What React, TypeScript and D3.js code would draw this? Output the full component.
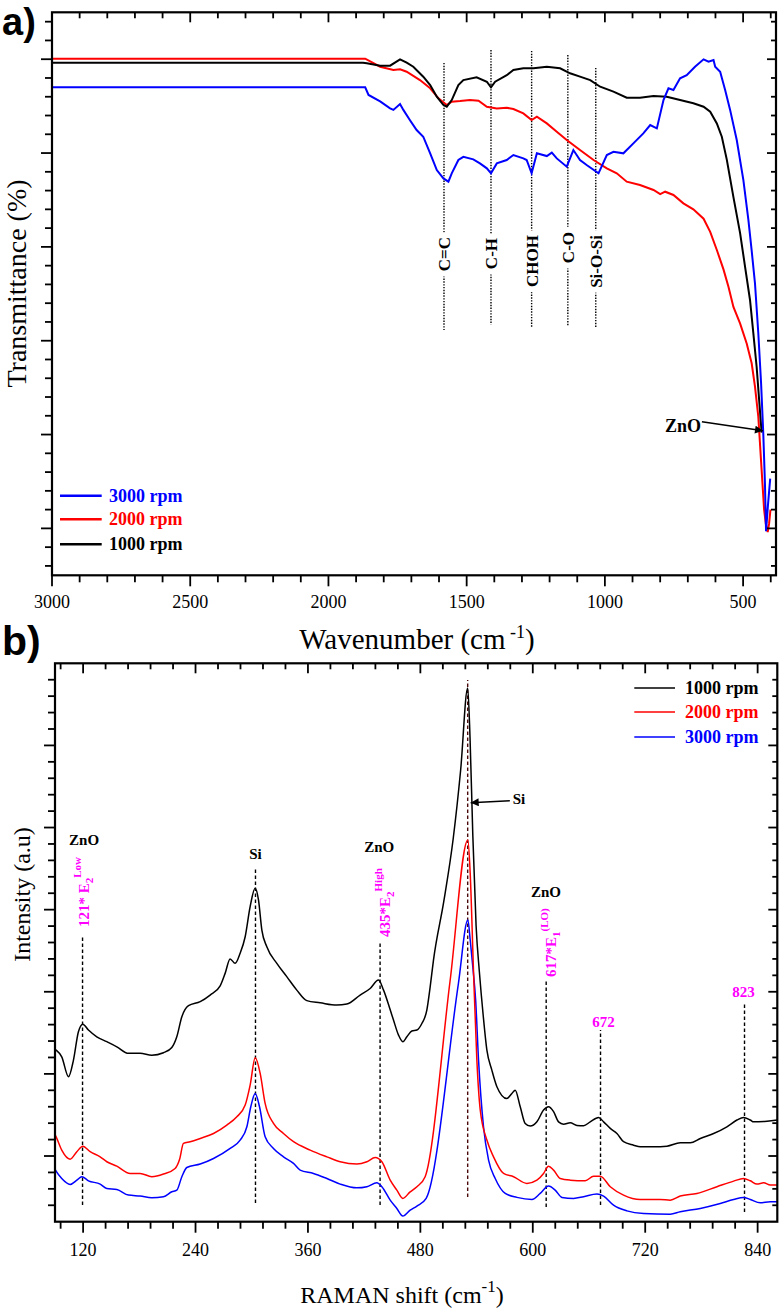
import React from 'react';
import * as d3 from 'd3';

// ---------------- Panel a : FTIR ----------------
const ftirTickLabels = [3000, 2500, 2000, 1500, 1000, 500];

const ftir1000: [number, number][] = [
  [3000, 54.63], [1875, 54.63], [1861, 54.57], [1813, 54.3], [1777, 54.31], [1741, 54.99], [1717, 54.63],
  [1693, 54.2], [1657, 53.14], [1632, 52.25], [1608, 51.0], [1584, 50.12], [1572, 49.94], [1554, 50.65],
  [1530, 52.25], [1512, 52.78], [1464, 53.07], [1427, 52.6], [1412, 52.0], [1397, 52.6], [1355, 53.3],
  [1331, 53.85], [1295, 54.03], [1258, 54.03], [1210, 54.2], [1162, 54.03], [1126, 53.5], [1090, 53.14],
  [1053, 52.78], [1017, 52.07], [969, 51.54], [921, 50.9], [873, 50.9], [824, 51.08], [776, 51.0],
  [728, 50.65], [680, 50.3], [643, 49.94], [619, 49.4], [595, 48.16], [577, 46.74], [559, 44.3],
  [547, 42.3], [535, 40.3], [511, 36.5], [493, 32.9], [475, 29.34], [463, 25.8], [451, 22.2],
  [442, 18.7], [433, 15.2],
];

const ftir2000: [number, number][] = [
  [3000, 55.06], [1875, 55.06], [1867, 55.06], [1813, 54.2], [1765, 53.85], [1741, 53.92], [1717, 53.67],
  [1669, 52.78], [1632, 51.9], [1602, 50.83], [1572, 50.12], [1554, 50.47], [1524, 50.54], [1488, 50.65],
  [1457, 50.58], [1427, 49.94], [1391, 49.76], [1355, 49.83], [1331, 49.69], [1295, 49.23], [1265, 48.52],
  [1246, 48.87], [1210, 48.16], [1174, 47.28], [1138, 46.39], [1090, 45.32], [1041, 44.26], [993, 43.37],
  [957, 42.84], [921, 41.95], [873, 41.59], [824, 41.06], [800, 40.63], [782, 40.88], [752, 40.53],
  [716, 39.64], [680, 39.0], [643, 38.0], [619, 36.6], [595, 34.67], [571, 32.6], [553, 30.76],
  [535, 28.6], [511, 26.85], [487, 24.7], [469, 22.6], [457, 20.1], [445, 16.9], [439, 14.06],
  [430, 9.8], [424, 7.0], [418, 5.5], [411, 4.6], [406, 5.5], [401, 7.0],
];

const ftir3000: [number, number][] = [
  [3000, 52.0], [1872, 52.0], [1867, 52.0], [1855, 51.19], [1813, 50.5], [1777, 49.76], [1765, 49.6],
  [1741, 50.22], [1729, 49.6], [1705, 48.5], [1681, 47.45], [1657, 46.74], [1632, 44.97], [1608, 43.19],
  [1584, 42.3], [1566, 41.95], [1554, 42.84], [1530, 44.26], [1512, 44.6], [1476, 44.33], [1452, 43.9],
  [1427, 43.37], [1412, 42.84], [1391, 43.9], [1355, 44.26], [1331, 44.79], [1295, 44.43], [1283, 44.26],
  [1265, 42.84], [1246, 44.97], [1210, 44.68], [1192, 45.04], [1174, 44.43], [1138, 43.55], [1114, 45.32],
  [1090, 44.26], [1066, 43.72], [1023, 42.84], [993, 44.79], [969, 45.14], [933, 44.97], [897, 46.03],
  [861, 47.1], [836, 47.99], [812, 47.63], [788, 50.65], [770, 51.9], [752, 51.72], [728, 52.96],
  [704, 53.3], [674, 54.2], [643, 54.99], [625, 54.74], [607, 54.91], [601, 54.2], [583, 53.67],
  [565, 51.72], [547, 49.6], [523, 46.39], [499, 42.12], [481, 37.9], [469, 34.6], [457, 31.1],
  [445, 25.8], [435, 20.5], [427, 15.1], [421, 9.8], [417, 4.7], [410, 7.5], [402, 10.3],
];

const ftirBands = ['C=C', 'C-H', 'CHOH', 'C-O', 'Si-O-Si'];
const ftirBandPos = [1582, 1412, 1265, 1134, 1033];
const ftirBandTop = [54.6, 55.98, 55.88, 55.45, 54.07];
const ftirBandBottom = [26.14, 26.7, 26.36, 26.57, 26.36];
const ftirBandLabelEnd = [36.05, 35.95, 36.27, 36.59, 36.27];

// ---------------- Panel b : Raman ----------------
const ramanTickLabels = [120, 240, 360, 480, 600, 720, 840];

const raman1000: [number, number][] = [
  [90, 10.5], [91.2, 10.45], [97.2, 10.04], [104.4, 8.83], [109.7, 9.84], [115, 11.57], [119.7, 12.03],
  [125.7, 11.67], [134.6, 11.26], [145.3, 10.96], [156, 10.65], [168.4, 10.25], [180.9, 10.25],
  [193.3, 10.14], [205.8, 10.29], [214.7, 10.61], [220, 11.26], [225.4, 12.48], [232.5, 13.15],
  [245, 13.4], [255.6, 13.8], [266.3, 14.36], [271.6, 15.12], [276.9, 16.0], [282.3, 15.73],
  [287.6, 16.34], [293, 17.35], [298.3, 19.18], [303.6, 20.3], [307.2, 19.59], [310.8, 17.76],
  [316.1, 16.74], [326.8, 15.73], [337.4, 14.92], [348.1, 14.1], [358.8, 13.46], [373, 13.33],
  [390.8, 13.19], [401.5, 13.25], [415.7, 13.8], [426.4, 14.2], [435.3, 14.71], [440.7, 14.1],
  [447.8, 12.9], [451.3, 12.28], [456.7, 11.36], [461.3, 10.96], [465.6, 11.26], [470.9, 11.61],
  [476.3, 11.67], [481.6, 12.07], [486.9, 12.88], [490.5, 14.31], [494, 15.93], [505, 19.5],
  [515, 23.3], [523, 27.5], [530.5, 32.5], [533, 29.5], [536, 23.5], [539.5, 18.0], [543, 15.2],
  [547, 12.6], [551, 10.45], [556.3, 9.23], [561.7, 8.22], [572.3, 7.5], [577.7, 7.81],
  [581.2, 8.01], [586.6, 7.0], [591.9, 5.98], [597.3, 5.82], [604.4, 6.08], [611.5, 6.8], [616.8, 7.0],
  [622.2, 6.7], [627.5, 6.08], [632.8, 5.94], [640, 6.02], [647.1, 5.86], [654.2, 5.84], [661.3, 6.08],
  [670.2, 6.35], [675.6, 6.08], [682.7, 5.68], [689.8, 5.37], [696.9, 4.87], [707.6, 4.66],
  [714.7, 4.56], [728.9, 4.56], [743.2, 4.6], [757.4, 4.8], [768.1, 4.8], [778.8, 5.07], [793, 5.37],
  [807.2, 5.78], [817.9, 6.19], [825, 6.35], [832.2, 6.19], [835.7, 6.08], [850, 6.12], [861, 6.19],
];

const raman2000: [number, number][] = [
  [90, 5.3], [91.2, 5.17], [97.2, 4.36], [106.1, 3.81], [113.3, 4.26], [119.7, 4.6], [127.5, 4.26],
  [138.2, 3.95], [145.3, 3.65], [156, 3.38], [170.2, 2.94], [180.9, 2.94], [193.3, 2.74], [205.8, 2.9],
  [218.2, 3.24], [223, 3.8], [227.1, 4.77], [234.3, 4.87], [245, 5.07], [259.2, 5.37], [273.4, 5.88],
  [284.1, 6.39], [293, 7.1], [298.3, 8.32], [303.7, 9.98], [309, 9.03], [314.3, 7.2], [323.2, 5.98],
  [333.9, 5.37], [344.6, 4.87], [362.4, 4.36], [380.2, 3.95], [394.4, 3.65], [412.2, 3.51],
  [422.9, 3.65], [431.8, 3.91], [438.9, 3.65], [447.8, 2.53], [454.9, 1.92], [461.3, 1.42],
  [469.1, 1.82], [476.3, 2.13], [485.1, 2.74], [511.8, 14.7], [530.7, 23.24], [533.2, 21.2],
  [536.7, 15.3], [540.3, 9.84], [543.9, 6.8], [551, 4.97], [558.1, 3.95], [568.8, 2.94], [579.5, 2.74],
  [593.7, 2.33], [604.4, 2.53], [611.5, 2.94], [616.8, 3.38], [622.2, 3.14], [629.3, 2.63], [640, 2.53],
  [656, 2.49], [664.9, 2.77], [672, 2.77], [682.7, 2.13], [696.9, 1.62], [714.7, 1.35], [736, 1.35],
  [746.7, 1.31], [757.4, 1.56], [775.2, 1.72], [796.6, 2.13], [814.4, 2.47], [825, 2.63], [832.2, 2.49],
  [839.3, 2.29], [846.4, 2.37], [853.5, 2.23], [861, 2.23],
];

const raman3000: [number, number][] = [
  [90, 3.2], [91.2, 3.08], [97.2, 2.63], [106.1, 2.27], [113.3, 2.53], [118.6, 2.74], [125.7, 2.49],
  [138.2, 2.29], [145.3, 2.02], [156, 1.96], [168.4, 1.62], [180.9, 1.56], [193.3, 1.46], [205.8, 1.52],
  [214.7, 1.82], [220, 1.92], [225.4, 2.74], [230.7, 3.3], [245, 3.51], [259.2, 3.85], [277, 4.46],
  [287.6, 4.97], [294.8, 5.78], [299, 7.0], [303.7, 7.81], [308.3, 7.0], [314.3, 5.17], [323.2, 4.46],
  [333.9, 3.95], [344.6, 3.55], [351.7, 3.14], [365.9, 2.94], [380.2, 2.63], [394.4, 2.29],
  [412.2, 2.06], [422.9, 2.13], [433.6, 2.37], [438.9, 2.13], [447.8, 1.31], [454.9, 0.8],
  [461.3, 0.34], [469.1, 0.7], [476.3, 0.95], [486.2, 1.42], [520.6, 14.5], [530.7, 18.37],
  [533.2, 17.15], [536, 15.5], [539, 13.5], [542.1, 9.84], [547.4, 5.78], [552.8, 3.75], [559.9, 2.63],
  [570.6, 1.72], [583, 1.48], [599.1, 1.35], [607.9, 1.72], [616.8, 2.17], [623.9, 1.92], [631.1, 1.48],
  [643.5, 1.42], [654.2, 1.52], [668.4, 1.68], [675.6, 1.56], [686.2, 1.01], [700.5, 0.66],
  [718.3, 0.5], [746.7, 0.46], [757.4, 0.6], [778.8, 0.81], [800.1, 1.11], [814.4, 1.35], [825, 1.48],
  [832.2, 1.35], [842.8, 1.15], [853.5, 1.21], [861, 1.21],
];

// dashed marker lines: position, bottom, top (data units)
const ramanLinePos = [119.4, 304, 437, 614.3, 672.3, 826];
const ramanLineBottom = [1.02, 1.14, 1.02, 0.9, 1.02, 0.59];
const ramanLineTop = [17.46, 21.5, 16.97, 14.7, 11.67, 13.38];
const ramanSiPeak = { pos: 530.5, bottom: 1.5, top: 32.98 };

const serif = "'Liberation Serif', 'Times New Roman', serif";
const sans = "'Liberation Sans', Arial, sans-serif";
const BLUE = '#0000ff';
const RED = '#ff0000';
const MAG = '#ff00ff';

// scales
const xA = d3.scaleLinear().domain([3000, 381]).range([52, 776]);
const yA = d3.scaleLinear().domain([0, 60]).range([575.3, 12.3]);
const xB = d3.scaleLinear().domain([90, 861]).range([55, 777.3]);
const yB = d3.scaleLinear().domain([0, 34]).range([1221.7, 663.3]);

type Sc = d3.ScaleLinear<number, number>;

function Frame({ x, y, xTicks, xMajor, yTicks, yMajor }: {
  x: Sc; y: Sc; xTicks: number[]; xMajor: (v: number) => boolean; yTicks: number[]; yMajor: (v: number) => boolean;
}) {
  const [l, r] = x.range();
  const [b, t] = y.range();
  const M = 10, m = 6;
  return (
    <g stroke="#000" strokeWidth={1.8} fill="none">
      {xTicks.map((v, i) => {
        const px = x(v);
        const len = xMajor(v) ? M : m;
        return (
          <g key={'x' + i}>
            <line x1={px} x2={px} y1={b} y2={b + len + 1} />
            <line x1={px} x2={px} y1={t} y2={t + len} />
          </g>
        );
      })}
      {yTicks.map((v, i) => {
        const py = y(v);
        const len = yMajor(v) ? M + 1 : m + 1;
        return (
          <g key={'y' + i}>
            <line x1={l - len} x2={l} y1={py} y2={py} />
            <line x1={r - len + 2} x2={r} y1={py} y2={py} />
          </g>
        );
      })}
      <rect x={l} y={t} width={r - l} height={b - t} strokeWidth={2.2} />
    </g>
  );
}

export default function App() {
  const lineA = d3.line<[number, number]>().x(d => xA(d[0])).y(d => yA(d[1]));
  const lineB = d3.line<[number, number]>().x(d => xB(d[0])).y(d => yB(d[1])).curve(d3.curveMonotoneX);

  const aXTicks = d3.range(400, 3001, 100);
  const aYTicks = d3.range(1, 60, 2);
  const bXTicks = d3.range(96, 861, 24);
  const bYTicks = d3.range(1, 34, 1);

  const legendA = [
    { label: '3000 rpm', color: BLUE, y: 8.48 },
    { label: '2000 rpm', color: RED, y: 5.98 },
    { label: '1000 rpm', color: '#000', y: 3.32 },
  ];
  const legendB = [
    { label: '1000 rpm', color: '#000', y: 32.5 },
    { label: '2000 rpm', color: RED, y: 31.04 },
    { label: '3000 rpm', color: BLUE, y: 29.52 },
  ];

  return (
    <svg width={780} height={1311} style={{ position: 'absolute', left: 0, top: 0, background: '#fff' }}>
      <defs>
        <marker id="arrow" viewBox="0 0 10 10" refX={10} refY={5} markerWidth={15} markerHeight={8}
          markerUnits="userSpaceOnUse" orient="auto">
          <path d="M0,0 L10,5 L0,10 z" fill="#000" />
        </marker>
      </defs>

      {/* ===== Panel a ===== */}
      <text x={2} y={35} fontFamily={sans} fontWeight="bold" fontSize={38}>a)</text>

      {/* band marker lines */}
      {ftirBandPos.map((w, i) => (
        <line key={'bl' + i} x1={xA(w)} x2={xA(w)} y1={yA(ftirBandTop[i])} y2={yA(ftirBandBottom[i])}
          stroke="#000" strokeWidth={1.4} strokeDasharray="1.4,1.4" />
      ))}
      {ftirBands.map((lab, i) => (
        <text key={'bt' + i} transform={`translate(${xA(ftirBandPos[i]) + 6},${yA(ftirBandLabelEnd[i])}) rotate(-90)`}
          textAnchor="end" fontFamily={serif} fontWeight="bold" fontSize={17}
          stroke="#fff" strokeWidth={12} paintOrder="stroke" strokeLinejoin="round">{lab}</text>
      ))}

      <path d={lineA(ftir2000) || ''} fill="none" stroke={RED} strokeWidth={2} />
      <path d={lineA(ftir1000) || ''} fill="none" stroke="#000" strokeWidth={2} />
      <path d={lineA(ftir3000) || ''} fill="none" stroke={BLUE} strokeWidth={2} />

      {/* ZnO arrow */}
      <text x={xA(652)} y={yA(15.9) + 6} textAnchor="end" fontFamily={serif} fontWeight="bold" fontSize={18}>ZnO</text>
      <line x1={xA(649)} y1={yA(16.37)} x2={xA(428)} y2={yA(15.4)} stroke="#000" strokeWidth={1.6} markerEnd="url(#arrow)" />

      {/* legend a */}
      {legendA.map((d, i) => (
        <g key={'la' + i}>
          <line x1={60} x2={101.7} y1={yA(d.y)} y2={yA(d.y)} stroke={d.color} strokeWidth={2.5} />
          <text x={109} y={yA(d.y) + 6} fill={d.color} fontFamily={serif} fontWeight="bold" fontSize={18}>{d.label}</text>
        </g>
      ))}

      <Frame x={xA} y={yA} xTicks={aXTicks} xMajor={v => v % 500 === 0} yTicks={aYTicks} yMajor={v => (v - 5) % 10 === 0} />
      {ftirTickLabels.map(v => (
        <text key={'ta' + v} x={xA(v)} y={608} textAnchor="middle" fontFamily={serif} fontSize={18}>{v}</text>
      ))}
      <text x={417} y={649} textAnchor="middle" fontFamily={serif} fontSize={29}>
        Wavenumber (cm<tspan fontSize={18} dy={-11}> -1</tspan><tspan dy={11}>)</tspan>
      </text>
      <text transform="translate(26,283.5) rotate(-90)" textAnchor="middle" fontFamily={serif} fontSize={28}>Transmittance (%)</text>

      {/* ===== Panel b ===== */}
      <text x={2} y={655} fontFamily={sans} fontWeight="bold" fontSize={41}>b)</text>

      {ramanLinePos.map((s, i) => (
        <line key={'rl' + i} x1={xB(s)} x2={xB(s)} y1={yB(ramanLineBottom[i])} y2={yB(ramanLineTop[i])}
          stroke="#000" strokeWidth={1.4} strokeDasharray="3.5,2.5" />
      ))}
      <line x1={xB(ramanSiPeak.pos)} x2={xB(ramanSiPeak.pos)} y1={yB(ramanSiPeak.bottom)} y2={yB(ramanSiPeak.top)}
        stroke="#4a0a0a" strokeWidth={1.4} strokeDasharray="3.5,2.5" />

      <path d={lineB(raman3000) || ''} fill="none" stroke={BLUE} strokeWidth={1.5} />
      <path d={lineB(raman2000) || ''} fill="none" stroke={RED} strokeWidth={1.5} />
      <path d={lineB(raman1000) || ''} fill="none" stroke="#000" strokeWidth={1.5} />

      {/* labels b */}
      <g fontFamily={serif} fontWeight="bold" fontSize={15}>
        <text x={xB(121)} y={845} textAnchor="middle">ZnO</text>
        <text x={xB(304)} y={859} textAnchor="middle">Si</text>
        <text x={xB(436)} y={852} textAnchor="middle">ZnO</text>
        <text x={xB(614)} y={897} textAnchor="middle">ZnO</text>
        <text x={xB(578.6)} y={804}>Si</text>
      </g>
      <line x1={xB(575.5)} y1={800.7} x2={xB(533.7)} y2={802.7} stroke="#000" strokeWidth={1.4} markerEnd="url(#arrow)" />

      <g fontFamily={serif} fontWeight="bold" fontSize={15} fill={MAG}>
        <text transform={`translate(${xB(119.4) + 6},927) rotate(-90)`}>
          121* E<tspan fontSize={11} dy={4}>2</tspan><tspan fontSize={11} dy={-12}>Low</tspan>
        </text>
        <text transform={`translate(${xB(437) + 10},937) rotate(-90)`}>
          435*E<tspan fontSize={11} dy={4}>2</tspan><tspan fontSize={11} dy={-12}>High</tspan>
        </text>
        <text transform={`translate(${xB(614.3) + 10},977) rotate(-90)`}>
          617*E<tspan fontSize={11} dy={4}>1</tspan><tspan fontSize={11} dy={-12}>(LO)</tspan>
        </text>
        <text x={xB(672.3) + 3} y={1027} textAnchor="middle">672</text>
        <text x={xB(826) - 1} y={997} textAnchor="middle">823</text>
      </g>

      {/* legend b */}
      {legendB.map((d, i) => (
        <g key={'lb' + i}>
          <line x1={634.3} x2={675} y1={yB(d.y)} y2={yB(d.y)} stroke={d.color} strokeWidth={1.5} />
          <text x={685} y={yB(d.y) + 6} fill={d.color} fontFamily={serif} fontWeight="bold" fontSize={18}>{d.label}</text>
        </g>
      ))}

      <Frame x={xB} y={yB} xTicks={bXTicks} xMajor={v => v % 120 === 0} yTicks={bYTicks} yMajor={v => (v - 4) % 5 === 0} />
      {ramanTickLabels.map(v => (
        <text key={'tb' + v} x={xB(v)} y={1256} textAnchor="middle" fontFamily={serif} fontSize={18}>{v}</text>
      ))}
      <text x={402} y={1303} textAnchor="middle" fontFamily={serif} fontSize={24}>
        RAMAN shift (cm<tspan fontSize={17} dy={-11}>-1</tspan><tspan dy={11}>)</tspan>
      </text>
      <text transform="translate(30,894.5) rotate(-90)" textAnchor="middle" fontFamily={serif} fontSize={24}>Intensity (a.u)</text>
    </svg>
  );
}
